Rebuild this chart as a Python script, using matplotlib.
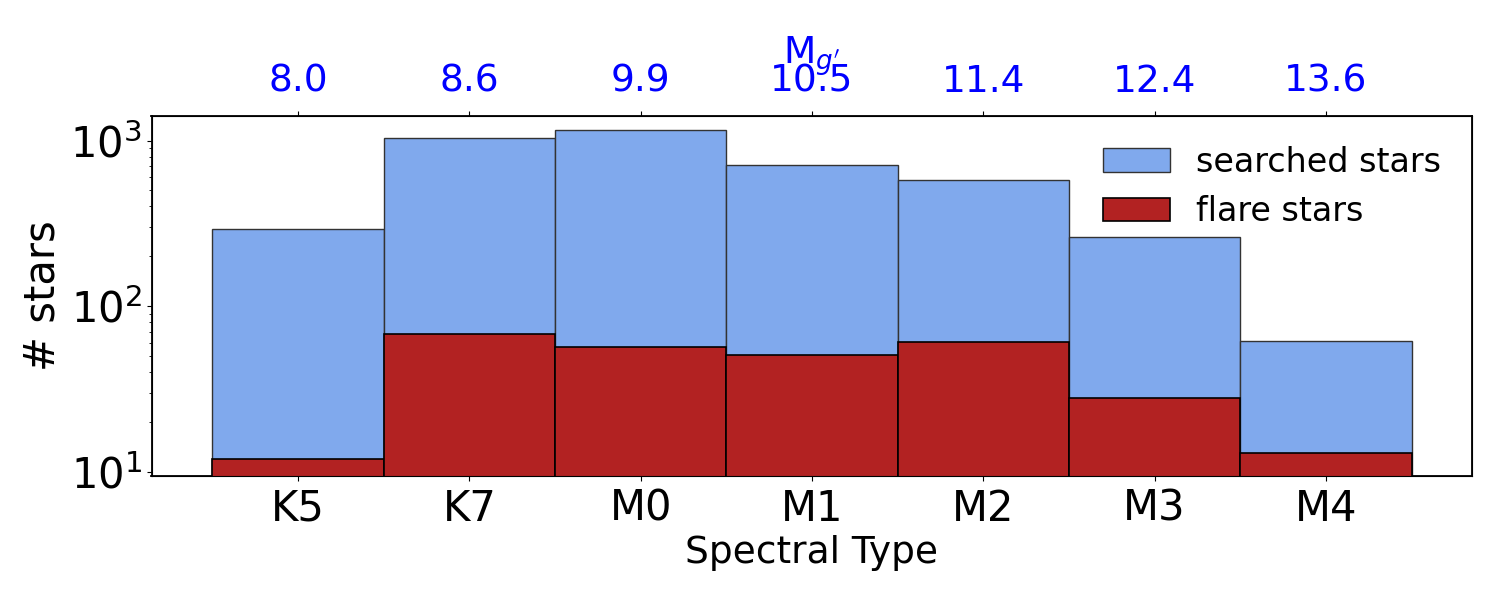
import matplotlib
matplotlib.use("Agg")
import matplotlib.pyplot as plt
import numpy as np

spt = ["K5", "K7", "M0", "M1", "M2", "M3", "M4"]
mag_g = ["8.0", "8.6", "9.9", "10.5", "11.4", "12.4", "13.6"]
searched = [292, 1030, 1150, 715, 580, 262, 61]
flares = [12, 68, 57, 51, 61, 28, 13]

x = np.arange(len(spt))

fig = plt.figure(figsize=(15, 6), dpi=100)
ax = fig.add_axes([0.101, 0.207, 0.880, 0.600])

ax.bar(x, searched, width=1.0, bottom=1, color="#80a9ed", edgecolor="#333333",
       lw=1.0, label="searched stars", zorder=2)
ax.bar(x, np.array(flares) - 1, width=1.0, bottom=1, color="#b22222", edgecolor="black",
       lw=1.2, label="flare stars", zorder=3)

ax.set_yscale("log")
ax.set_ylim(9.46, 1410)
ax.set_xlim(-0.856, 6.85)
ax.set_xticks(x)
ax.set_xticklabels(spt)
ax.tick_params(axis="x", labelsize=30, pad=5)
ax.tick_params(axis="y", labelsize=30)
ax.set_xlabel("Spectral Type", fontsize=27, labelpad=4)
ax.set_ylabel("# stars", fontsize=30, labelpad=5)
for sp in ax.spines.values():
    sp.set_linewidth(1.3)

top = ax.twiny()
top.set_xlim(ax.get_xlim())
top.set_xticks(x)
top.set_xticklabels(mag_g, color="blue")
top.tick_params(axis="x", labelsize=27, pad=8)
top.set_xlabel(r"M$_{g'}$", color="blue", fontsize=27, labelpad=0)

ax.legend(loc="upper right", fontsize=24, frameon=False)

fig.savefig("out.png", dpi=100)
